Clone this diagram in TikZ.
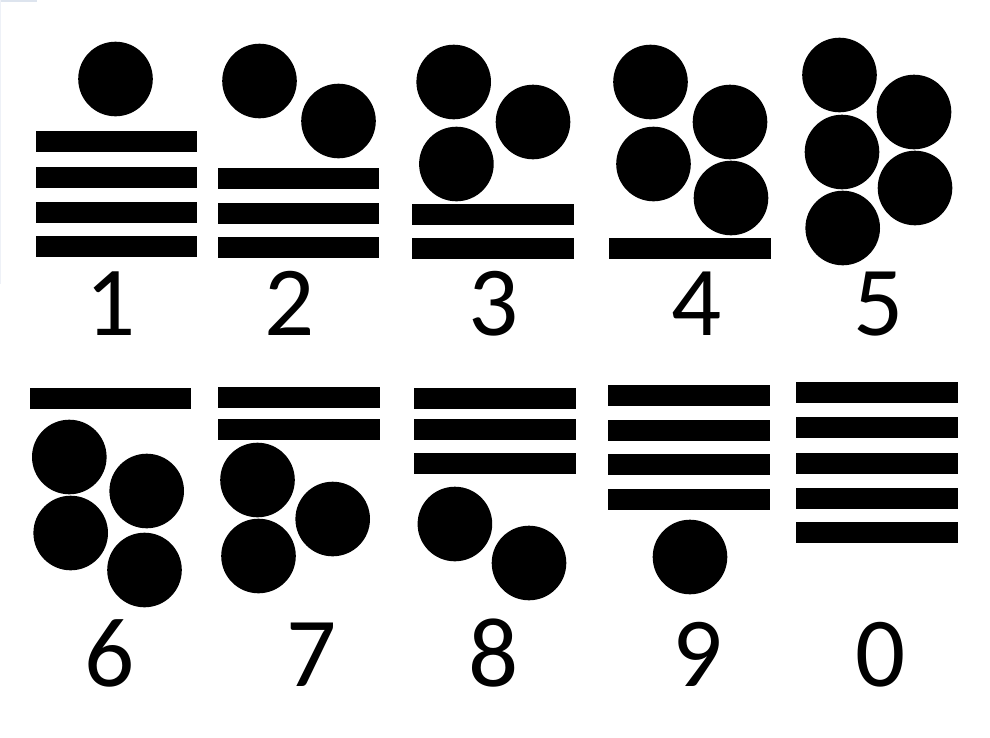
\documentclass[tikz,border=0pt]{standalone}
\usepackage{fontspec}
\setmainfont{Carlito}
\definecolor{faint}{HTML}{DDE4EE}
\begin{document}
\begin{tikzpicture}[x=1pt,y=-1pt,
  bar/.style={fill=black},
  dot/.style={fill=black},
  digit/.style={font=\fontsize{99}{99}\selectfont, anchor=base, inner sep=0pt, text=black}]
\useasboundingbox (0,0) rectangle (990,737);
\fill[white] (0,0) rectangle (990,737);
% faint artifact top-left
\fill[faint] (0,0) rectangle (37,1.5);
\fill[faint!50] (0,0) rectangle (1,284);
\def\R{37.3}
% ---- 1 ----
\fill[dot] (115.5,79) circle[radius=\R];
\foreach \a/\b in {131/152,167/188,202/223,236/257} \fill[bar] (36,\a) rectangle (197,\b);
\node[digit] (d1) at (110.5,335) {1};
% ---- 2 ----
\fill[dot] (259.5,81) circle[radius=\R];
\fill[dot] (338.5,121) circle[radius=\R];
\foreach \a/\b in {168/189,203/224,237/258} \fill[bar] (218,\a) rectangle (379,\b);
\node[digit] (d2) at (290,335) {2};
% ---- 3 ----
\fill[dot] (453.7,82) circle[radius=\R];
\fill[dot] (533,122) circle[radius=\R];
\fill[dot] (456.4,164) circle[radius=\R];
\foreach \a/\b in {204/225,238/259} \fill[bar] (412,\a) rectangle (574,\b);
\node[digit] (d3) at (494,335) {3};
% ---- 4 ----
\fill[dot] (650.5,82) circle[radius=\R];
\fill[dot] (730,122) circle[radius=\R];
\fill[dot] (653.5,164) circle[radius=\R];
\fill[dot] (731,198) circle[radius=\R];
\fill[bar] (609,238) rectangle (771,259);
\node[digit] (d4) at (697,335) {4};
% ---- 5 ----
\fill[dot] (839.5,75) circle[radius=\R];
\fill[dot] (914,112) circle[radius=\R];
\fill[dot] (842,152) circle[radius=\R];
\fill[dot] (915,188) circle[radius=\R];
\fill[dot] (842.7,228) circle[radius=\R];
\node[digit] (d5) at (879,335) {5};
% ---- 6 ----
\fill[bar] (30,388) rectangle (191,409);
\fill[dot] (69.3,457) circle[radius=\R];
\fill[dot] (146.7,491) circle[radius=\R];
\fill[dot] (70.7,533) circle[radius=\R];
\fill[dot] (144.5,570) circle[radius=\R];
\node[digit] (d6) at (110,686) {6};
% ---- 7 ----
\foreach \a/\b in {387/408,419/440} \fill[bar] (218,\a) rectangle (380,\b);
\fill[dot] (257.5,480) circle[radius=\R];
\fill[dot] (332.7,519) circle[radius=\R];
\fill[dot] (258.5,556) circle[radius=\R];
\node[digit] (d7) at (312,686) {7};
% ---- 8 ----
\foreach \a/\b in {388/409,419/440,453/474} \fill[bar] (414,\a) rectangle (576,\b);
\fill[dot] (454.9,524) circle[radius=\R];
\fill[dot] (529,563) circle[radius=\R];
\node[digit] (d8) at (493.6,686) {8};
% ---- 9 ----
\foreach \a/\b in {385/406,420/441,454/475,489/510} \fill[bar] (608,\a) rectangle (770,\b);
\fill[dot] (690,557) circle[radius=\R];
\node[digit] (d9) at (698,686) {9};
% ---- 0 ----
\foreach \a/\b in {382/403,417/438,453/474,488/509,522/543} \fill[bar] (796,\a) rectangle (958,\b);
\node[digit] (d0) at (880.7,686) {0};
\end{tikzpicture}
\end{document}
